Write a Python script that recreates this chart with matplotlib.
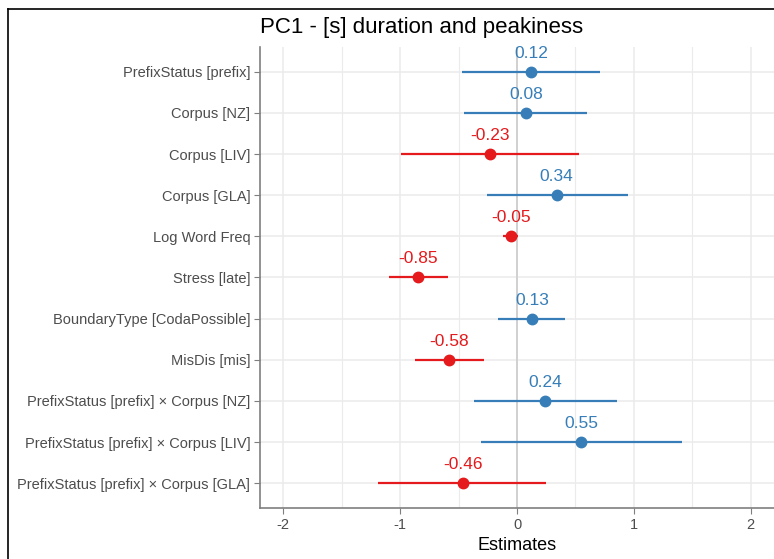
import numpy as np
import matplotlib.pyplot as plt
from matplotlib.lines import Line2D

plt.rcParams['font.family'] = ['Liberation Sans', 'DejaVu Sans']
plt.rcParams['axes.unicode_minus'] = False

# terms from top to bottom
terms = ['PrefixStatus [prefix]', 'Corpus [NZ]', 'Corpus [LIV]', 'Corpus [GLA]',
         'Log Word Freq', 'Stress [late]', 'BoundaryType [CodaPossible]',
         'MisDis [mis]', 'PrefixStatus [prefix] \u00d7 Corpus [NZ]',
         'PrefixStatus [prefix] \u00d7 Corpus [LIV]',
         'PrefixStatus [prefix] \u00d7 Corpus [GLA]']
estimates = [0.12, 0.08, -0.23, 0.34, -0.05, -0.85, 0.13, -0.58, 0.24, 0.55, -0.46]
ci_low = [-0.47, -0.45, -0.99, -0.26, -0.12, -1.10, -0.16, -0.87, -0.37, -0.31, -1.19]
ci_high = [0.71, 0.60, 0.53, 0.95, 0.01, -0.59, 0.41, -0.28, 0.86, 1.41, 0.25]

blue = '#377EB8'
red = '#E41A1C'

fig = plt.figure(figsize=(7.74, 5.59), dpi=100)
ax = fig.add_axes([260/774, 1-508/559, 1-260/774, (508-47)/559])

n = len(terms)
ypos = np.arange(n, 0, -1)

ax.set_xlim(-2.2, 2.2)
ax.set_ylim(0.4, n + 0.6)
ax.set_xticks([-2, -1, 0, 1, 2])
ax.set_xticks([-1.5, -0.5, 0.5, 1.5], minor=True)
ax.set_yticks(ypos)
ax.set_yticklabels(terms)
ax.grid(which='major', color='#EBEBEB', lw=1.1)
ax.grid(which='minor', axis='x', color='#EBEBEB', lw=0.8)
ax.set_axisbelow(True)
ax.axvline(0, color='#CCCCCC', lw=1.2, zorder=1)

for y, est, lo, hi in zip(ypos, estimates, ci_low, ci_high):
    c = blue if est > 0 else red
    ax.plot([lo, hi], [y, y], color=c, lw=1.6, solid_capstyle='butt', zorder=3)
    ax.plot(est, y, 'o', color=c, ms=7.5, zorder=4)
    ax.annotate(f'{est:.2f}', (est, y), xytext=(0, 8), textcoords='offset points',
                ha='center', va='bottom', color=c, fontsize=12.5)

for side in ['top', 'right']:
    ax.spines[side].set_visible(False)
for side in ['left', 'bottom']:
    ax.spines[side].set_color('#7F7F7F')
    ax.spines[side].set_linewidth(1.2)
ax.tick_params(axis='x', which='major', length=4, color='#7F7F7F',
               labelsize=10.5, labelcolor='#4D4D4D', pad=3)
ax.tick_params(axis='x', which='minor', length=0)
ax.tick_params(axis='y', length=4, color='#7F7F7F', labelsize=10.5,
               labelcolor='#4D4D4D', pad=3)
ax.set_xlabel('Estimates', fontsize=13, color='black', labelpad=4)

fig.text(260/774, 1-28/559, 'PC1 - [s] duration and peakiness', fontsize=16,
         ha='left', va='center')

# outer frame
fig.add_artist(Line2D([8/774, 8/774], [0, 1-9/559], color='black', lw=1.2,
                      transform=fig.transFigure))
fig.add_artist(Line2D([8/774, 1], [1-9/559, 1-9/559], color='black', lw=1.2,
                      transform=fig.transFigure))

fig.savefig('out.png', dpi=100)
